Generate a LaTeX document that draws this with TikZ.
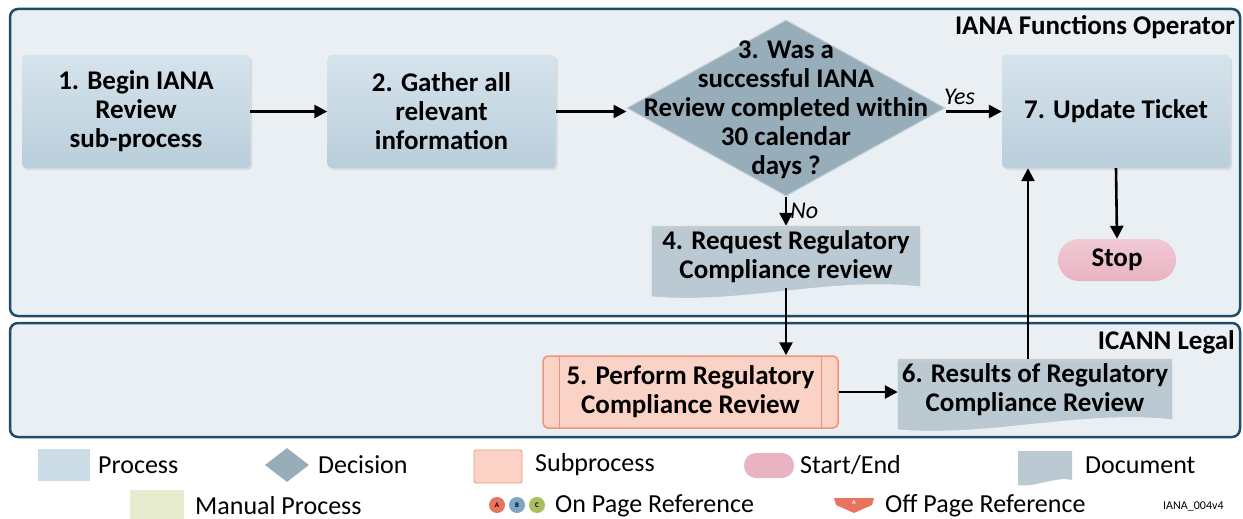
\documentclass[tikz,border=0pt]{standalone}
\usepackage{fontspec}
\setmainfont{Carlito}
\usetikzlibrary{arrows.meta,shapes.geometric,shadows,calc}
\definecolor{lanefill}{HTML}{E9EFF3}
\definecolor{laneline}{HTML}{1E4D6B}
\definecolor{procfill}{HTML}{CBDCE7}
\definecolor{procfillb}{HTML}{B9CEDB}
\definecolor{decfill}{HTML}{97ADBA}
\definecolor{docfill}{HTML}{BAC9D2}
\definecolor{subfill}{HTML}{FBD3C6}
\definecolor{subline}{HTML}{F0937C}
\definecolor{stopfill}{HTML}{E9B3C2}
\definecolor{manfill}{HTML}{E6ECCD}
\definecolor{refA}{HTML}{E8735F}
\definecolor{refB}{HTML}{7FA5C6}
\definecolor{refC}{HTML}{A7BF5E}
\newcommand\fsz[2]{\fontsize{#1}{#2}\selectfont}
\pgfdeclarelayer{bg}
\pgfdeclarelayer{lanes}
\pgfsetlayers{lanes,bg,main}
\tikzset{
  lane/.style={draw=laneline, line width=2.5pt, fill=lanefill, rounded corners=8pt},
  lanelabel/.style={anchor=east, inner sep=0pt, font=\bfseries\fsz{27}{29}},
  btext/.style={align=center, font=\bfseries\fsz{27}{29}},
  proc/.style={btext, rounded corners=4pt, top color=procfill!80!white, bottom color=procfillb,
    minimum width=228pt, minimum height=113pt,
    drop shadow={opacity=0.18, shadow xshift=2pt, shadow yshift=-2pt}},
  decision/.style={diamond, fill=decfill, draw=decfill!60!white, line width=1pt, inner sep=0pt,
    minimum width=318pt, minimum height=176pt},
  docnode/.style={btext, inner sep=0pt},
  subproc/.style={btext, draw=subline, line width=1.5pt, fill=subfill, rounded corners=5pt,
    minimum width=295pt, minimum height=72pt},
  stopnode/.style={btext, rounded corners=21pt, top color=stopfill!70!white, bottom color=stopfill,
    minimum width=118pt, minimum height=42pt, inner sep=0pt},
  arr/.style={line width=2.6pt, -{Triangle[length=13pt,width=13pt]}},
  choice/.style={font=\itshape\fsz{24}{26}, inner sep=0pt},
  legtext/.style={anchor=west, inner sep=0pt, font=\fsz{26}{28}},
  refc/.style={circle, minimum size=16pt, inner sep=0pt, font=\bfseries\fsz{7}{8}}
}
\begin{document}
\begin{tikzpicture}[x=1pt, y=-1pt]
\useasboundingbox (0,0) rectangle (1243,519);
\begin{pgfonlayer}{lanes}
  \draw[lane] (10,9) rectangle (1240,316);
  \draw[lane] (10,323) rectangle (1240,437);
\end{pgfonlayer}
\node[lanelabel] (lab1) at (1235,27) {IANA Functions Operator};
\node[lanelabel] (lab2) at (1235,342) {ICANN Legal};

% process nodes
\node[proc] (n1) at (136,111.5) {1. Begin IANA\\Review\\sub-process};
\node[proc] (n2) at (441.5,111.5) {2. Gather all\\relevant\\information};
\node[decision] (d3) at (786,108) {};
\node[btext] (t3) at (786,110) {3. Was a\\successful IANA\\Review completed within\\30 calendar\\days ?};
\node[proc] (n7) at (1116,111.5) {7. Update Ticket};
\node[stopnode] (stop) at (1117,260) {Stop};
\node[docnode, minimum width=268pt, minimum height=62pt] (n4) at (786,257) {4. Request Regulatory\\Compliance review};
\node[subproc] (n5) at (690.5,392) {5. Perform Regulatory\\Compliance Review};
\node[docnode, minimum width=274pt, minimum height=62pt] (n6) at (1035,390) {6. Results of Regulatory\\Compliance Review};

\begin{pgfonlayer}{bg}
  % document shapes
  \foreach \d in {n4,n6}{
    \fill[black, opacity=0.15, xshift=2pt, yshift=-2pt] (\d.north west) -- (\d.north east) -- ([yshift=2pt]\d.south east)
      .. controls ($(\d.south east)+(-90,-12)$) and ($(\d.south west)+(90,16)$) .. ($(\d.south west)+(0,8)$) -- cycle;
    \fill[docfill] ([yshift=-3pt]\d.north west) -- ([yshift=-3pt]\d.north east) -- ([yshift=2pt]\d.south east)
      .. controls ($(\d.south east)+(-90,-12)$) and ($(\d.south west)+(90,16)$) .. ($(\d.south west)+(0,8)$) -- cycle;
  }
\end{pgfonlayer}
% subprocess inner lines
\draw[subline, line width=1.2pt] ($(n5.north west)+(17,1)$) -- ($(n5.south west)+(17,-1)$);
\draw[subline, line width=1.2pt] ($(n5.north east)+(-17,1)$) -- ($(n5.south east)+(-17,-1)$);

% connectors
\draw[arr] (n1.east) -- (n2.west);
\draw[arr] (n2.east) -- (n2.east -| d3.west);
\draw[arr] (d3.east |- n7.west) -- (n7.west) node[choice, pos=0.25, above=6pt] (yes) {Yes};
\draw[arr] (d3.south) -- (n4.north) node[choice, midway, right=3pt] (no) {No};
\draw[arr] (n7.south) -- (stop.north);
\draw[arr] (n4.south) -- (n4.south |- n5.north);
\draw[arr] (n5.east) -- (n5.east -| n6.west);
\draw[arr] ([xshift=-7pt]n6.north) -- ([xshift=-7pt]n6.north |- n7.south);

% legend
\fill[procfill] (38,449) rectangle (90,481);
\node[legtext] (lp) at (98,465) {Process};
\node[diamond, fill=decfill, minimum width=44pt, minimum height=34pt, inner sep=0pt] (ld) at (287,465) {};
\node[legtext] (ldt) at (318,465) {Decision};
\draw[subline, fill=subfill, line width=0.8pt, rounded corners=2pt] (474,450) rectangle (522,483);
\node[legtext] (ls) at (535,465) {Subprocess};
\fill[stopfill] (744,453) [rounded corners=12pt] rectangle (794,478);
\node[legtext] (lse) at (800,465) {Start/End};
\fill[docfill] (1018,451) -- (1072,451) -- (1072,480) .. controls (1055,476) and (1035,488) .. (1018,485) -- cycle;
\node[legtext] (ldoc) at (1085,465) {Document};
\fill[manfill] (130,490) rectangle (184,519);
\node[legtext] (lm) at (195,506) {Manual Process};
\node[refc, fill=refA] (ra) at (497,505) {A};
\node[refc, fill=refB] (rb) at (517,505) {B};
\node[refc, fill=refC] (rc) at (537,505) {C};
\node[legtext] (lon) at (555,506) {On Page Reference};
\fill[refA] (834,498) -- (874,498) -- (872,505) -- (854,513) -- (836,505) -- cycle;
\node[font=\bfseries\fsz{6}{7}, text=white, inner sep=0pt] (offa) at (854,503) {A};
\node[legtext] (loff) at (885,506) {Off Page Reference};
\node[anchor=west, inner sep=0pt, font=\fsz{12}{13}] (tag) at (1163,506) {IANA\_004v4};
\end{tikzpicture}
\end{document}
